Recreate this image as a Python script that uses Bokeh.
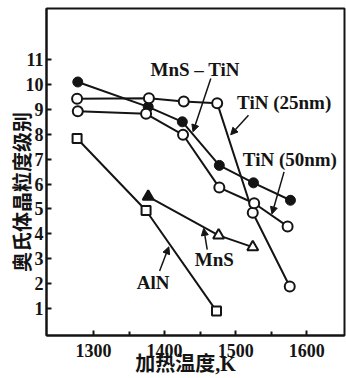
from bokeh.plotting import figure
from bokeh.models import Range1d, FixedTicker, Label, Arrow, NormalHead
from bokeh.embed import file_html
from bokeh.resources import INLINE

# ---- data ----
mnstin_x = [1278, 1377, 1425, 1477, 1525, 1577]
mnstin_y = [10.1, 9.1, 8.5, 6.75, 6.05, 5.35]

tin25_x = [1277, 1378, 1427, 1474, 1524, 1576]
tin25_y = [9.43, 9.45, 9.32, 9.25, 4.85, 1.89]

tin50_x = [1278, 1374, 1426, 1477, 1526, 1573]
tin50_y = [8.92, 8.82, 7.98, 5.86, 5.23, 4.3]

aln_x = [1277, 1374, 1473]
aln_y = [7.83, 4.94, 0.9]

mns_x = [1377, 1476, 1524]
mns_y = [5.5, 3.94, 3.47]

x_ticks = [1300, 1400, 1500, 1600]
x_minor = [1350, 1450, 1550]
y_ticks = [1, 2, 3, 4, 5, 6, 7, 8, 9, 10, 11]

INK = "#141414"
SERIF = "Liberation Serif"
LABFONT = "'Liberation Serif', 'Noto Sans CJK SC'"

p = figure(width=346, height=378, output_backend="svg", toolbar_location=None,
           x_range=Range1d(1234, 1653), y_range=Range1d(-0.08, 13.05),
           min_border_left=46, min_border_right=2, min_border_top=8, min_border_bottom=43)
p.xgrid.visible = False
p.ygrid.visible = False
p.outline_line_color = INK
p.outline_line_width = 2
p.background_fill_color = "white"
p.border_fill_color = "white"

for ax in (p.xaxis[0], p.yaxis[0]):
    ax.axis_line_color = INK
    ax.axis_line_width = 2
    ax.major_tick_line_color = INK
    ax.major_tick_line_width = 2
    ax.major_tick_in = 5
    ax.major_tick_out = 0
    ax.minor_tick_line_color = INK
    ax.minor_tick_line_width = 2
    ax.minor_tick_in = 4
    ax.minor_tick_out = 0
    ax.major_label_text_font = SERIF
    ax.major_label_text_font_size = "18px"
    ax.major_label_text_font_style = "bold"
    ax.major_label_text_color = INK
    ax.axis_label_text_font = LABFONT
    ax.axis_label_text_font_size = "20px"
    ax.axis_label_text_font_style = "bold"
    ax.axis_label_text_color = INK

p.xaxis[0].ticker = FixedTicker(ticks=x_ticks, minor_ticks=x_minor)
p.yaxis[0].ticker = FixedTicker(ticks=y_ticks, minor_ticks=[])
p.xaxis[0].major_label_standoff = 8
p.yaxis[0].major_label_standoff = 3
p.xaxis[0].axis_label = "加热温度,K\u3000"
p.yaxis[0].axis_label = "奥氏体晶粒度级别\u3000\u3000"
p.xaxis[0].axis_label_standoff = -7
p.yaxis[0].axis_label_standoff = -11

LW = 2

# MnS-TiN : filled circles
p.line(mnstin_x, mnstin_y, line_color=INK, line_width=LW)
p.scatter(mnstin_x, mnstin_y, marker="circle", size=10, fill_color=INK, line_color=INK)

# TiN(25nm) : open circles
p.line(tin25_x, tin25_y, line_color=INK, line_width=LW)
p.scatter(tin25_x, tin25_y, marker="circle", size=10, fill_color="white", line_color=INK, line_width=2)

# TiN(50nm) : open circles
p.line(tin50_x, tin50_y, line_color=INK, line_width=LW)
p.scatter(tin50_x, tin50_y, marker="circle", size=10, fill_color="white", line_color=INK, line_width=2)

# AlN : open squares
p.line(aln_x, aln_y, line_color=INK, line_width=LW)
p.scatter(aln_x, aln_y, marker="square", size=9, fill_color="white", line_color=INK, line_width=2)

# MnS : triangles (first filled)
p.line(mns_x, mns_y, line_color=INK, line_width=LW)
p.scatter(mns_x[:1], mns_y[:1], marker="triangle", size=11, fill_color=INK, line_color=INK, line_width=2)
p.scatter(mns_x[1:], mns_y[1:], marker="triangle", size=11, fill_color="white", line_color=INK, line_width=2)

# pointer lines
pointers = [
    ((1465, 10.24), (1440, 8.1)),
    ((1518, 8.76), (1493, 7.98)),
    ((1568, 6.49), (1551, 4.8)),
    ((1460, 3.37), (1455, 4.22)),
    ((1393, 2.51), (1406, 3.48)),
]
for (x0, y0), (x1, y1) in pointers:
    p.add_layout(Arrow(x_start=x0, y_start=y0, x_end=x1, y_end=y1, line_color=INK, line_width=1.5,
                       end=NormalHead(size=7, fill_color=INK, line_color=INK, line_width=1)))

def lab(x, y, t, size="19px", align="left"):
    p.add_layout(Label(x=x, y=y, text=t, text_font=SERIF, text_font_size=size, text_font_style="bold",
                       text_color=INK, text_align=align, text_baseline="middle"))

lab(1443, 10.62, "MnS – TiN", align="center")
lab(1502, 9.28, "TiN (25nm)")
lab(1510, 6.97, "TiN (50nm)")
lab(1470, 2.97, "MnS", align="center")
lab(1384, 2.05, "AlN", align="center")

open("out.html", "w").write(file_html(p, INLINE))
